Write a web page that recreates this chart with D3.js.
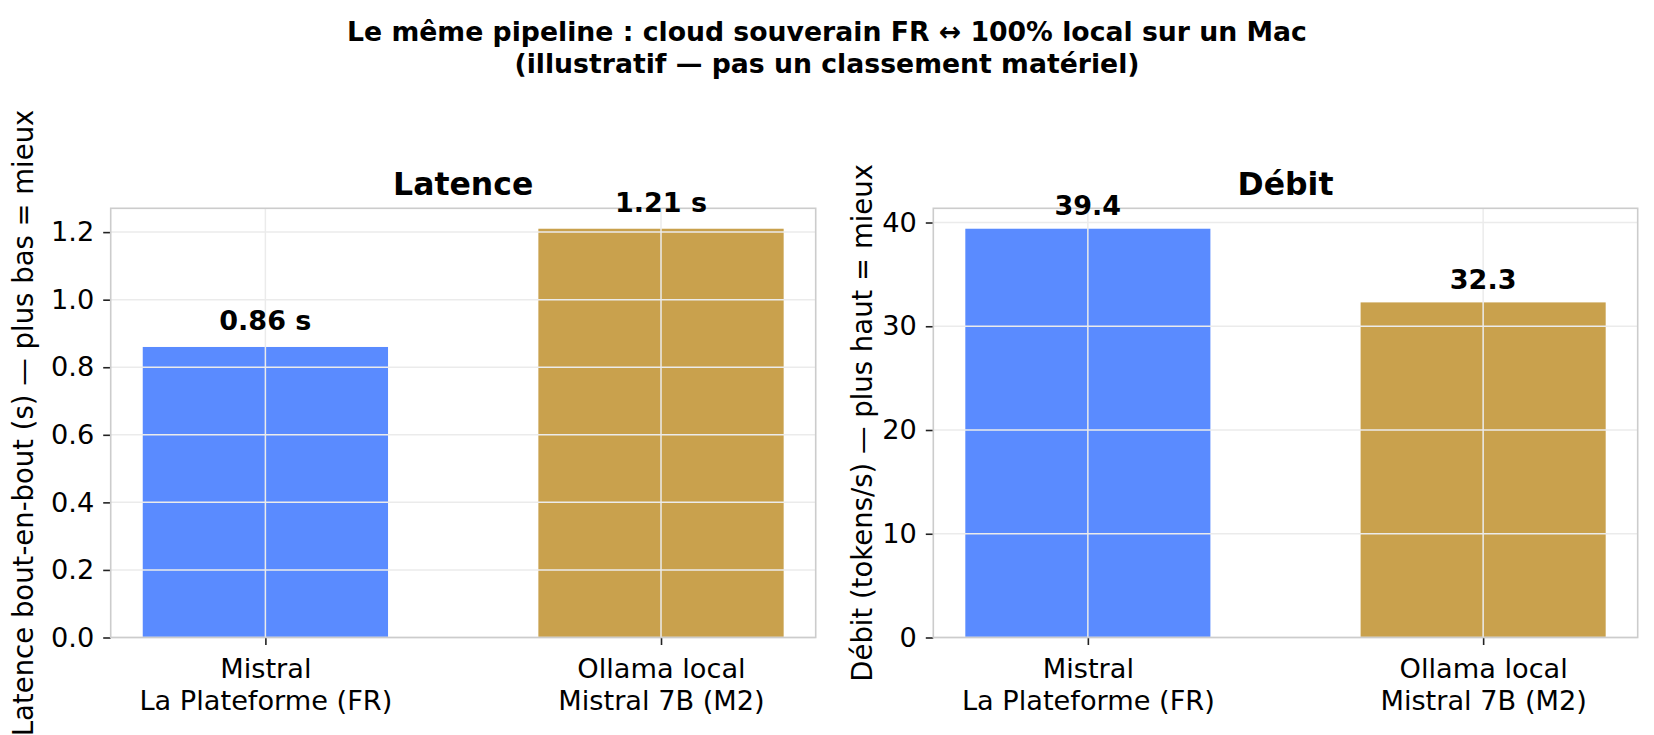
<!DOCTYPE html>
<html>
<head>
<meta charset="utf-8">
<script src="https://cdn.jsdelivr.net/npm/d3@7"></script>
<style>
  body { margin: 0; background: #fff; }
  text { font-family: "DejaVu Sans", sans-serif; fill: #000; }
</style>
</head>
<body>
<div id="container"></div>
<script>
/* CONSTANTS AND GLOBALS */
const width = 1654,
  height = 735

const titleLines = ["Le même pipeline : cloud souverain FR ↔ 100% local sur un Mac",
  "(illustratif — pas un classement matériel)"]

/* DATA */
const categories = [["Mistral", "La Plateforme (FR)"], ["Ollama local", "Mistral 7B (M2)"]]
const barColors = ["#5a8bff", "#c9a14d"]

const latencyValues = [0.86, 1.21]
const latencyLabels = ["0.86 s", "1.21 s"]
const latencyTicks = [0, 0.2, 0.4, 0.6, 0.8, 1.0, 1.2]

const throughputValues = [39.4, 32.3]
const throughputLabels = ["39.4", "32.3"]
const throughputTicks = [0, 10, 20, 30, 40]

const panels = [
  { title: "Latence", ylabel: "Latence bout-en-bout (s) — plus bas = mieux",
    values: latencyValues, labels: latencyLabels, ticks: latencyTicks, fmt: d3.format(".1f"),
    left: 110.7, right: 815.7, labelX: 33, pad: 16.5 },
  { title: "Débit", ylabel: "Débit (tokens/s) — plus haut = mieux",
    values: throughputValues, labels: throughputLabels, ticks: throughputTicks, fmt: d3.format("d"),
    left: 933.3, right: 1637.7, labelX: 872, pad: 13.5 }
]
const plotTop = 208.3, plotBottom = 637.5
const barWidth = 0.62

const svg = d3.select("#container")
  .append("svg")
  .attr("width", width)
  .attr("height", height)

// suptitle
svg.append("g").selectAll("text")
  .data(titleLines)
  .join("text")
  .attr("x", width / 2)
  .attr("y", (d, i) => 41 + i * 32)
  .attr("text-anchor", "middle")
  .attr("font-size", 26.7)
  .attr("font-weight", "bold")
  .text(d => d)

panels.forEach(p => {
  const g = svg.append("g")

  const n = p.values.length
  const margin = 0.05 * (n - 1 + barWidth)
  const xScale = d3.scaleLinear()
    .domain([-barWidth / 2 - margin, n - 1 + barWidth / 2 + margin])
    .range([p.left, p.right])

  const ymax = d3.max(p.values) * 1.05
  const yScale = d3.scaleLinear()
    .domain([0, ymax])
    .range([plotBottom, plotTop])

  // bars
  g.selectAll("rect.bar")
    .data(p.values)
    .join("rect")
    .attr("class", "bar")
    .attr("x", (d, i) => xScale(i - barWidth / 2))
    .attr("width", (d, i) => xScale(i + barWidth / 2) - xScale(i - barWidth / 2))
    .attr("y", d => yScale(d))
    .attr("height", d => yScale(0) - yScale(d))
    .attr("fill", (d, i) => barColors[i])

  // grid (over the bars, like the original)
  g.append("g")
    .selectAll("line")
    .data(p.ticks)
    .join("line")
    .attr("x1", p.left).attr("x2", p.right)
    .attr("y1", d => yScale(d)).attr("y2", d => yScale(d))
    .attr("stroke", "#ebebeb")
    .attr("stroke-width", 1.5)
  g.append("g")
    .selectAll("line")
    .data(d3.range(n))
    .join("line")
    .attr("x1", d => xScale(d)).attr("x2", d => xScale(d))
    .attr("y1", plotTop).attr("y2", plotBottom)
    .attr("stroke", "#ebebeb")
    .attr("stroke-width", 1.5)

  // axes
  const yAxis = d3.axisLeft(yScale)
    .tickValues(p.ticks)
    .tickFormat(p.fmt)
    .tickSize(7.5)
    .tickPadding(9)
  const yG = g.append("g")
    .attr("transform", `translate(${p.left},0)`)
    .call(yAxis)
  yG.select(".domain").remove()
  yG.selectAll(".tick line").attr("stroke", "#222").attr("stroke-width", 1.6)
  yG.selectAll(".tick text")
    .attr("font-size", 27.2)
    .attr("font-family", "DejaVu Sans")
    .attr("fill", "#000")

  const xAxis = d3.axisBottom(xScale)
    .tickValues(d3.range(n))
    .tickSize(7.5)
    .tickFormat("")
  const xG = g.append("g")
    .attr("transform", `translate(0,${plotBottom})`)
    .call(xAxis)
  xG.select(".domain").remove()
  xG.selectAll(".tick line").attr("stroke", "#222").attr("stroke-width", 1.6)
  xG.selectAll(".tick")
    .append("text")
    .attr("text-anchor", "middle")
    .attr("font-size", 27.2)
    .attr("fill", "#000")
    .selectAll("tspan")
    .data(d => categories[d])
    .join("tspan")
    .attr("x", 0)
    .attr("y", (d, i) => 40.2 + i * 32.4)
    .text(d => d)

  // frame
  g.append("rect")
    .attr("x", p.left).attr("y", plotTop)
    .attr("width", p.right - p.left).attr("height", plotBottom - plotTop)
    .attr("fill", "none")
    .attr("stroke", "#cccccc")
    .attr("stroke-width", 1.6)

  // value labels
  g.selectAll("text.value")
    .data(p.values)
    .join("text")
    .attr("class", "value")
    .attr("x", (d, i) => xScale(i))
    .attr("y", d => yScale(d) - p.pad)
    .attr("text-anchor", "middle")
    .attr("font-size", 27)
    .attr("font-weight", "bold")
    .text((d, i) => p.labels[i])

  // title
  g.append("text")
    .attr("x", (p.left + p.right) / 2)
    .attr("y", plotTop - 13)
    .attr("text-anchor", "middle")
    .attr("font-size", 31.5)
    .attr("font-weight", "bold")
    .text(p.title)

  // y label
  g.append("text")
    .attr("transform", `translate(${p.labelX},${(plotTop + plotBottom) / 2}) rotate(-90)`)
    .attr("text-anchor", "middle")
    .attr("font-size", 27.5)
    .text(p.ylabel)
})
</script>
</body>
</html>
